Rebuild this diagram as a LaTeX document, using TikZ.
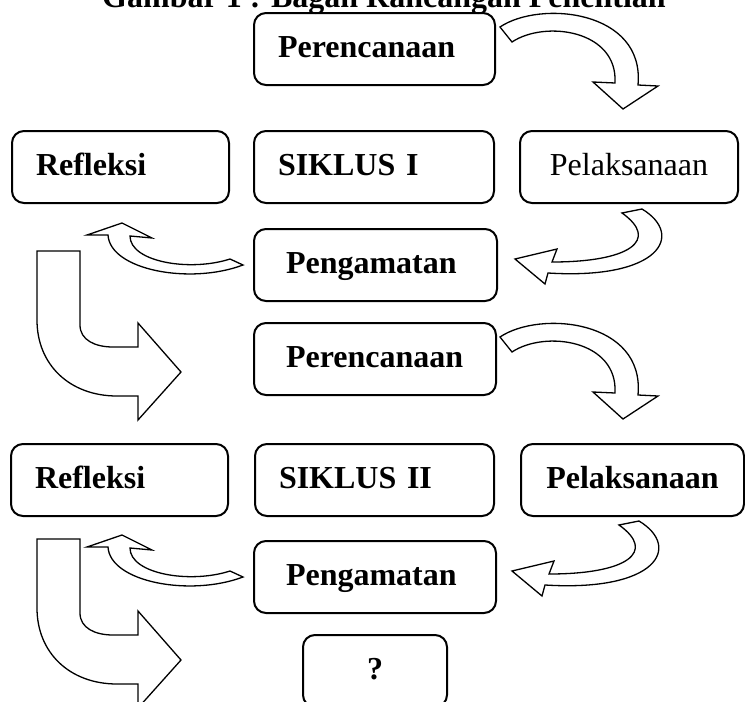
\documentclass[tikz,border=0pt]{standalone}
\usepackage{fontspec}
\setmainfont{Liberation Serif}
\usetikzlibrary{positioning}
\tikzset{
	box/.style={draw, line width=1pt, rounded corners=6pt, anchor=north west, minimum height=36pt,
		text height=11.5pt, text depth=3.5pt, inner ysep=0pt, font=\bfseries\fontsize{16}{19}\selectfont},
	lbox/.style={box, align=left, inner xsep=12pt},
	wbox/.style={lbox, inner xsep=16pt},
	cbox/.style={box, align=center},
	blk/.style={draw, fill=white, line width=0.65pt, line join=miter}
}
% block arrows, drawn in pixel units
\newcommand{\curveright}{%
	\path[blk] (500,27) .. controls (540,0) and (645,10) .. (638,85) -- (658,86) -- (623,109)
		-- (593,82) -- (615,83) .. controls (618,30) and (545,20) .. (512,42) -- cycle;}
\newcommand{\curveback}{%
	\path[blk] (622,213) -- (642,209) .. controls (685,235) and (660,280) .. (548,273) -- (545,284)
		-- (515,259) -- (557,249) -- (552,262) .. controls (630,262) and (660,240) .. (622,213) -- cycle;}
\newcommand{\curveup}{%
	\path[blk] (230,259) -- (243,265) .. controls (190,285) and (110,270) .. (108,235) -- (87,235)
		-- (122,223) -- (152,238) -- (130,236) .. controls (130,262) and (190,272) .. (230,259) -- cycle;}
\newcommand{\bendarrow}{%
	\path[blk] (37,251) -- (80,251) -- (80,325) .. controls (80,340) and (95,347) .. (113,347) -- (138,347)
		-- (138,323) -- (181,372) -- (138,420) -- (138,396) -- (117,396) .. controls (70,396) and (37,365) .. (37,320) -- cycle;}

\begin{document}
\begin{tikzpicture}[x=0.5pt, y=-0.5pt]
	\useasboundingbox (0,0) rectangle (745,702);
	\clip (0,0) rectangle (745,702);

	\node (judul) at (384,7) [anchor=base, font=\bfseries\fontsize{16}{19}\selectfont] {Gambar 1 : Bagan Rancangan Penelitian};

	% siklus I
	\node (per1) at (253,12) [lbox, text width=96.5pt] {Perencanaan};
	\node (sik1) at (253,130) [lbox, text width=96pt] {SIKLUS I};
	\node (ref1) [lbox, text width=84.5pt, left=11.5pt of sik1] {Refleksi};
	\node (pel1) [cbox, minimum width=109pt, right=12pt of sik1, font=\fontsize{16}{19}\selectfont] {Pelaksanaan};
	\node (pen1) at (253,228) [wbox, text width=89.5pt] {Pengamatan};

	% siklus II
	\node (per2) at (253,322) [wbox, text width=89pt] {Perencanaan};
	\node (sik2) at (254,443) [lbox, text width=95.5pt] {SIKLUS II};
	\node (ref2) [lbox, text width=84.5pt, left=12.5pt of sik2] {Refleksi};
	\node (pel2) [cbox, minimum width=111.5pt, right=12.5pt of sik2] {Pelaksanaan};
	\node (pen2) at (253,540) [wbox, text width=89pt] {Pengamatan};
	\node (tanya) at (302,634) [cbox, minimum width=72pt] {?};

	\curveright
	\curveback
	\curveup
	\bendarrow
	\begin{scope}[shift={(0,310)}] \curveright \end{scope}
	\begin{scope}[shift={(-3,312)}] \curveback \end{scope}
	\begin{scope}[shift={(0,312)}] \curveup \end{scope}
	\begin{scope}[shift={(0,288)}] \bendarrow \end{scope}
\end{tikzpicture}
\end{document}
